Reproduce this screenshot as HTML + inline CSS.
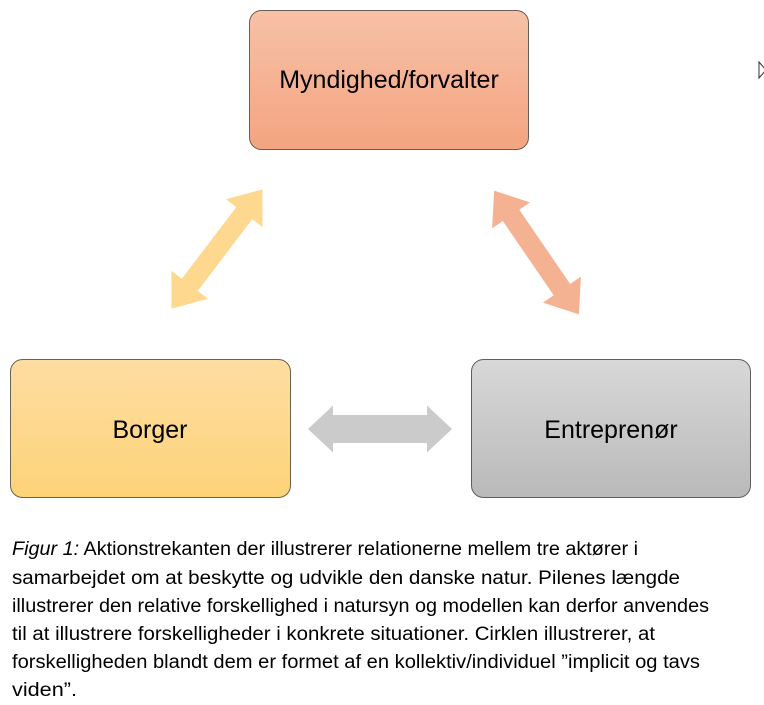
<!DOCTYPE html>
<html><head><meta charset="utf-8"><style>
body{margin:0;background:#fff;width:764px;height:700px;overflow:hidden}
</style></head><body>
<svg width="764" height="700" xmlns="http://www.w3.org/2000/svg">
<defs>
<linearGradient id="gt" x1="0" y1="0" x2="0" y2="1"><stop offset="0" stop-color="#f7c1a8"/><stop offset="1" stop-color="#f4a480"/></linearGradient>
<linearGradient id="gb" x1="0" y1="0" x2="0" y2="1"><stop offset="0" stop-color="#fedda2"/><stop offset="1" stop-color="#fdd378"/></linearGradient>
<linearGradient id="ge" x1="0" y1="0" x2="0" y2="1"><stop offset="0" stop-color="#d8d8d8"/><stop offset="1" stop-color="#b9b9b9"/></linearGradient>
</defs>
<rect x="249.5" y="10.5" width="279" height="139" rx="12" fill="url(#gt)" stroke="#6b5d55"/>
<rect x="10.5" y="359.5" width="280" height="138" rx="12" fill="url(#gb)" stroke="#6b6250"/>
<rect x="471.5" y="359.5" width="279" height="138" rx="12" fill="url(#ge)" stroke="#5e5e5e"/>
<g font-family="Liberation Sans, sans-serif" font-size="25" fill="#000" text-anchor="middle">
<text x="389" y="88">Myndighed/forvalter</text>
<text x="150" y="438">Borger</text>
<text x="611" y="438">Entreprenør</text>
</g>
<g transform="translate(217,249) rotate(-52.7)">
<polygon points="-75,0 -45,-23 -45,-10 45,-10 45,-23 75,0 45,23 45,10 -45,10 -45,23" fill="#fed88e"/>
</g>
<g transform="translate(536.5,252.5) rotate(55.6)">
<polygon points="-75,0 -45,-23 -45,-10 45,-10 45,-23 75,0 45,23 45,10 -45,10 -45,23" fill="#f5b293"/>
</g>
<polygon points="308,429 333,405.5 333,415 427,415 427,405.5 452,429 427,452.5 427,443 333,443 333,452.5" fill="#cbcbcb"/>
<polygon points="759,62 759,78 766,70" fill="none" stroke="#333" stroke-width="1"/>
<g font-family="Liberation Sans, sans-serif" font-size="19" fill="#000">
<text x="12" y="555" textLength="626" lengthAdjust="spacingAndGlyphs"><tspan font-style="italic">Figur 1:</tspan> Aktionstrekanten der illustrerer relationerne mellem tre aktører i</text>
<text x="12" y="584" textLength="668" lengthAdjust="spacingAndGlyphs">samarbejdet om at beskytte og udvikle den danske natur. Pilenes længde</text>
<text x="12" y="612" textLength="697" lengthAdjust="spacingAndGlyphs">illustrerer den relative forskellighed i natursyn og modellen kan derfor anvendes</text>
<text x="12" y="640" textLength="643" lengthAdjust="spacingAndGlyphs">til at illustrere forskelligheder i konkrete situationer. Cirklen illustrerer, at</text>
<text x="12" y="668" textLength="688" lengthAdjust="spacingAndGlyphs">forskelligheden blandt dem er formet af en kollektiv/individuel ”implicit og tavs</text>
<text x="12" y="696" textLength="65" lengthAdjust="spacingAndGlyphs">viden”.</text>
</g>
</svg>
</body></html>
